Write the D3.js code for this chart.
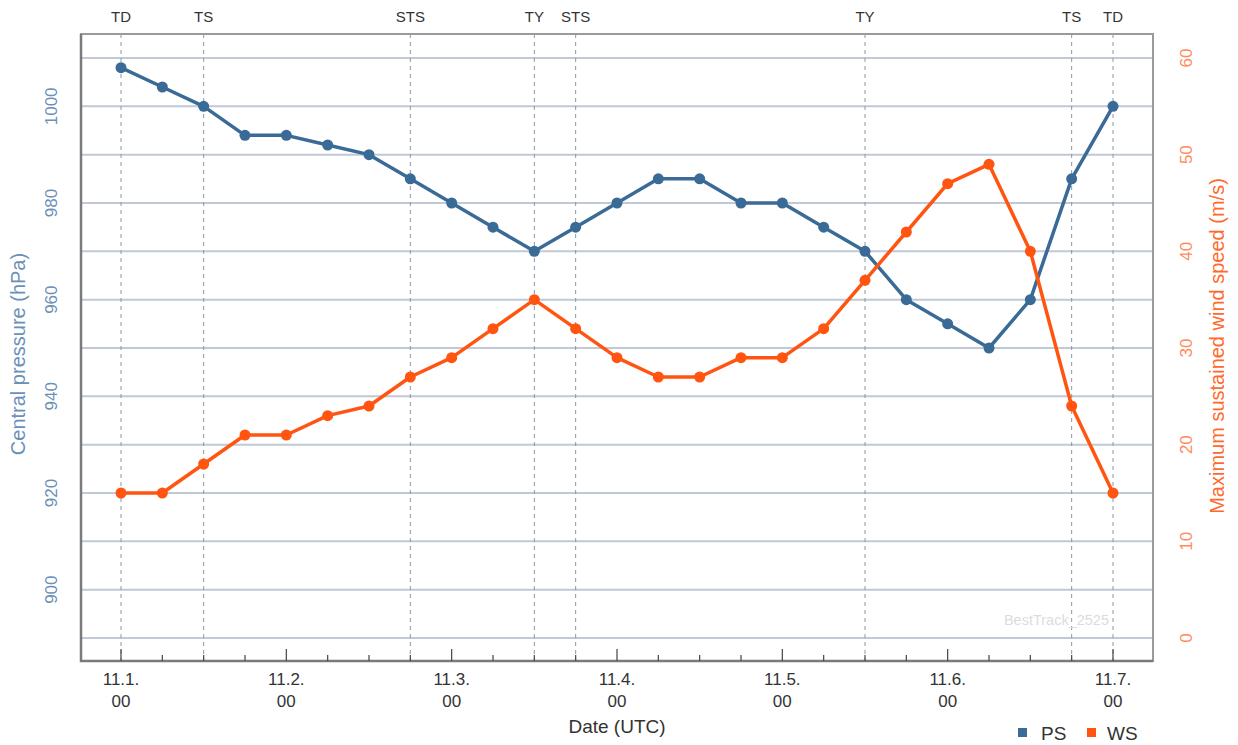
<!DOCTYPE html>
<html><head><meta charset="utf-8">
<script src="https://cdn.jsdelivr.net/npm/d3@7"></script>
<style>body{margin:0;background:#fff;}svg{display:block;font-family:"Liberation Sans",Arial,sans-serif;}</style>
</head><body>
<svg id="c" width="1238" height="745"></svg>
<script>
// Data (6-hourly, starting 11.1. 00 UTC)
const steps = d3.range(25); // index of 6h step
const pressure = [1008,1004,1000,994,994,992,990,985,980,975,970,975,980,985,985,980,980,975,970,960,955,950,960,985,1000];
const wind = [15,15,18,21,21,23,24,27,29,32,35,32,29,27,27,29,29,32,37,42,47,49,40,24,15];
const gradeLabels = ["TD","TS","STS","TY","STS","TY","TS","TD"];
const gradeSteps = [0,2,7,10,11,18,23,24];
const dayLabels = ["11.1.","11.2.","11.3.","11.4.","11.5.","11.6.","11.7."];
const pressureTicks = [900,920,940,960,980,1000];
const windTicks = [0,10,20,30,40,50,60];

const svg = d3.select("#c");
const L = 81, R = 1153, T = 34, B = 661;
const x = d3.scaleLinear().domain([0,24]).range([121,1113]);
const yP = d3.scaleLinear().domain([890,1010]).range([638,58]);
const yW = d3.scaleLinear().domain([0,60]).range([638,58]);

// gridlines every 10 hPa
const g = svg.append("g");
g.selectAll("line.h").data(d3.range(890,1011,10)).enter().append("line")
  .attr("x1",L).attr("x2",R).attr("y1",d=>yP(d)).attr("y2",d=>yP(d))
  .attr("stroke","#c0c9d5").attr("stroke-width",2);

// vertical dashed grade lines
g.selectAll("line.v").data(gradeSteps).enter().append("line")
  .attr("x1",d=>x(d)).attr("x2",d=>x(d)).attr("y1",T).attr("y2",B)
  .attr("stroke","#8a98a8").attr("stroke-width",1).attr("stroke-dasharray","4,4");
svg.selectAll("text.grade").data(gradeLabels).enter().append("text")
  .attr("x",(d,i)=>x(gradeSteps[i])).attr("y",22).attr("text-anchor","middle")
  .attr("font-size",15).attr("fill","#333").text(d=>d);

// frame
svg.append("rect").attr("x",L).attr("y",T).attr("width",R-L).attr("height",B-T)
  .attr("fill","none").attr("stroke","#9a9a9a").attr("stroke-width",2);
svg.append("path").attr("d",`M${L},${T}V${B}H${R}`).attr("fill","none").attr("stroke","#7a7a7a").attr("stroke-width",2.5);

// bottom ticks
svg.selectAll("line.tk").data(steps).enter().append("line")
  .attr("x1",d=>x(d)).attr("x2",d=>x(d)).attr("y1",B).attr("y2",d=>B-(d%4===0?12:6))
  .attr("stroke","#444").attr("stroke-width",1.2);
const dl = svg.selectAll("g.dl").data(dayLabels).enter().append("g");
dl.append("text").attr("x",(d,i)=>x(i*4)).attr("y",685).attr("text-anchor","middle")
  .attr("font-size",17).attr("fill","#333").text(d=>d);
dl.append("text").attr("x",(d,i)=>x(i*4)).attr("y",707).attr("text-anchor","middle")
  .attr("font-size",17).attr("fill","#333").text("00");
svg.append("text").attr("x",617).attr("y",733).attr("text-anchor","middle")
  .attr("font-size",19).attr("fill","#333").text("Date (UTC)");

// left axis labels
svg.selectAll("text.pl").data(pressureTicks).enter().append("text")
  .attr("transform",d=>`translate(57,${yP(d)}) rotate(-90)`).attr("text-anchor","middle")
  .attr("font-size",17).attr("fill","#6b90b8").text(d=>d);
svg.append("text").attr("transform","translate(25,354) rotate(-90)").attr("text-anchor","middle")
  .attr("font-size",20).attr("fill","#6b90b8").text("Central pressure (hPa)");

// right axis labels
svg.selectAll("text.wl").data(windTicks).enter().append("text")
  .attr("transform",d=>`translate(1192,${yW(d)}) rotate(-90)`).attr("text-anchor","middle")
  .attr("font-size",17).attr("fill","#ff8a5c").text(d=>d);
svg.append("text").attr("transform","translate(1224,346) rotate(-90)").attr("text-anchor","middle")
  .attr("font-size",20).attr("fill","#ff6a2c").text("Maximum sustained wind speed (m/s)");

// watermark
svg.append("text").attr("x",1109).attr("y",625).attr("text-anchor","end")
  .attr("font-size",14.5).attr("fill","#dcdcdc").text("BestTrack_2525");

// series
const pColor = "#3a6a96", wColor = "#ff5511";
function series(vals, y, color){
  svg.append("path").datum(vals).attr("fill","none").attr("stroke",color).attr("stroke-width",3.5)
    .attr("stroke-linejoin","round")
    .attr("d",d3.line().x((d,i)=>x(i)).y(d=>y(d)));
  svg.selectAll(null).data(vals).enter().append("circle")
    .attr("cx",(d,i)=>x(i)).attr("cy",d=>y(d)).attr("r",5.5).attr("fill",color);
}
series(pressure, yP, pColor);
series(wind, yW, wColor);

// legend
svg.append("rect").attr("x",1018).attr("y",728).attr("width",9).attr("height",9).attr("fill",pColor);
svg.append("text").attr("x",1041).attr("y",740).attr("font-size",19).attr("fill","#333").text("PS");
svg.append("rect").attr("x",1087).attr("y",728).attr("width",9).attr("height",9).attr("fill",wColor);
svg.append("text").attr("x",1107).attr("y",740).attr("font-size",19).attr("fill","#333").text("WS");
</script>
</body></html>
